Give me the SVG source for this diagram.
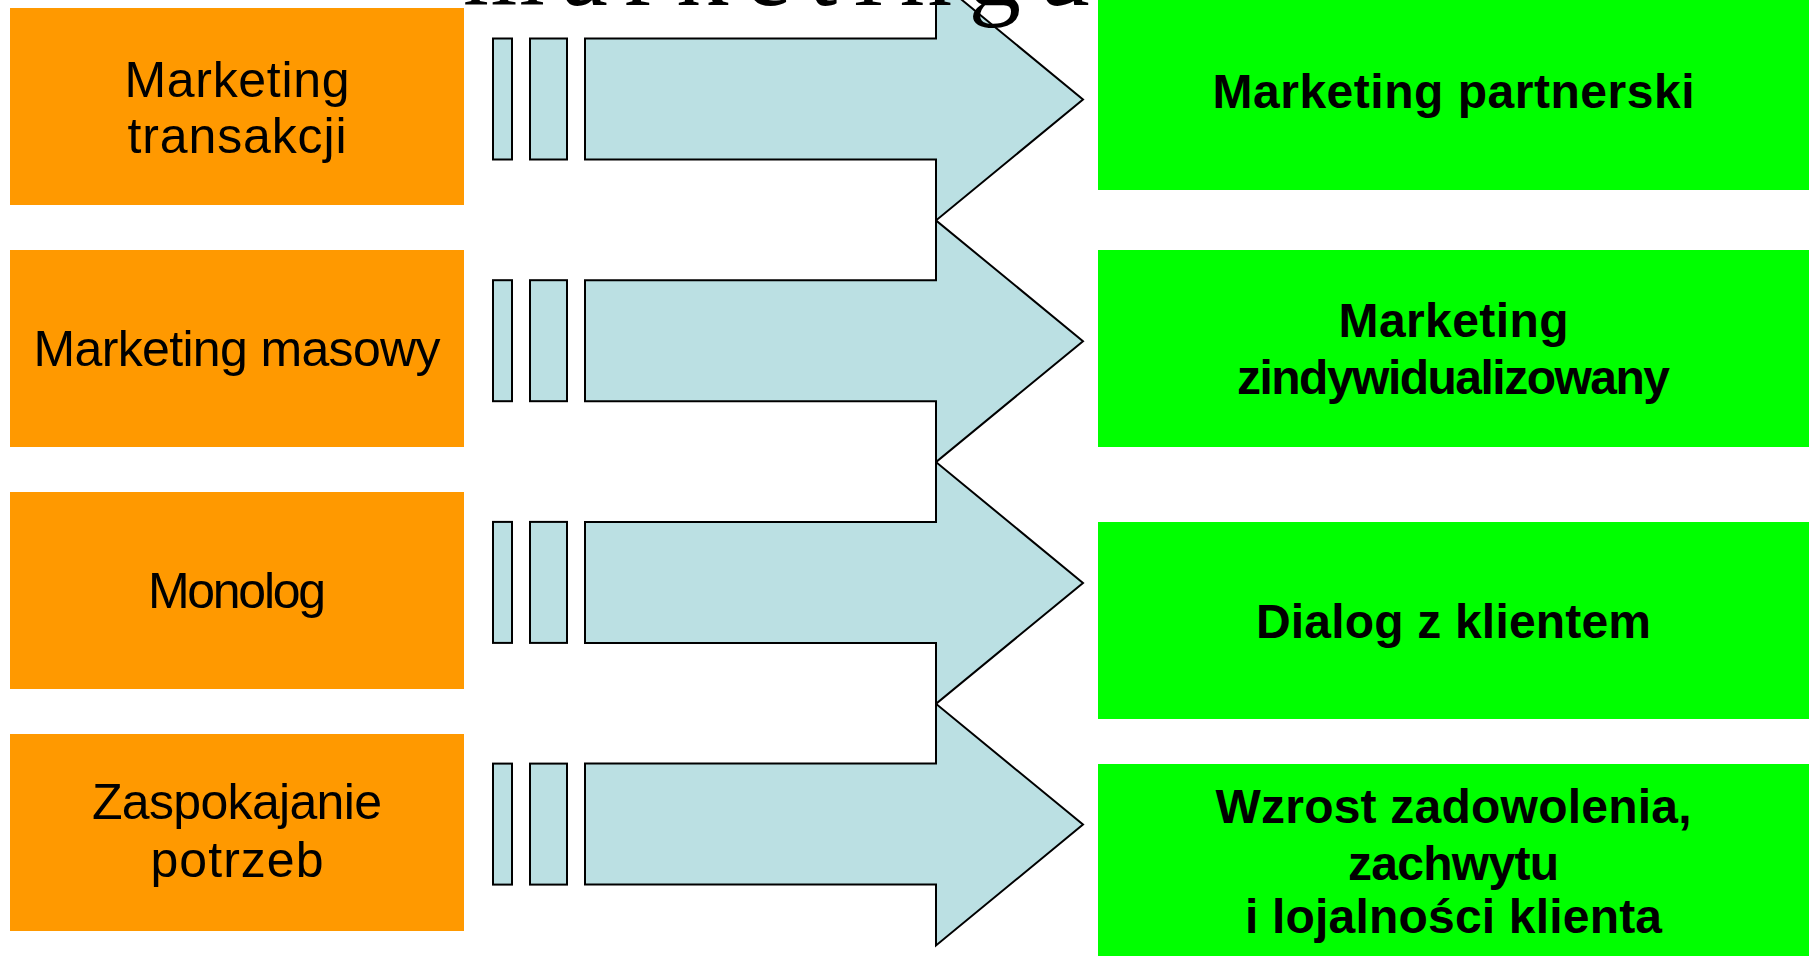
<svg xmlns="http://www.w3.org/2000/svg" width="1818" height="956" viewBox="0 0 1818 956">
<style>
.bg{fill:#FFFFFF}
.old{fill:#FF9900}
.new{fill:#00FF00}
.arr{fill:#BBE0E3;stroke:#000000;stroke-width:2;stroke-linejoin:miter}
.lt{font-family:"Comic Sans MS","Liberation Sans",sans-serif;font-size:50px;fill:#000000;text-anchor:middle}
.rt{font-family:"Comic Sans MS","Liberation Sans",sans-serif;font-size:48px;font-weight:bold;fill:#000000;text-anchor:middle}
.title{font-family:"Liberation Serif","Times New Roman",serif;font-size:105px;fill:#000000}
</style>
<rect class="bg" x="0" y="0" width="1818" height="956"/>

<g id="connectors">
  <g id="arrow1">
    <rect class="arr" x="493" y="38.5" width="19" height="121"/>
    <rect class="arr" x="530" y="38.5" width="37" height="121"/>
    <path class="arr" d="M585,38.5 H936 V-21.4 L1083,99.5 L936,220.4 V159.5 H585 Z"/>
  </g>
  <g id="arrow2">
    <rect class="arr" x="493" y="280.2" width="19" height="121"/>
    <rect class="arr" x="530" y="280.2" width="37" height="121"/>
    <path class="arr" d="M585,280.2 H936 V220.4 L1083,341.2 L936,462.1 V401.2 H585 Z"/>
  </g>
  <g id="arrow3">
    <rect class="arr" x="493" y="521.9" width="19" height="121"/>
    <rect class="arr" x="530" y="521.9" width="37" height="121"/>
    <path class="arr" d="M585,521.9 H936 V462.1 L1083,582.9 L936,703.8 V642.9 H585 Z"/>
  </g>
  <g id="arrow4">
    <rect class="arr" x="493" y="763.6" width="19" height="121"/>
    <rect class="arr" x="530" y="763.6" width="37" height="121"/>
    <path class="arr" d="M585,763.6 H936 V703.8 L1083,824.6 L936,945.5 V884.6 H585 Z"/>
  </g>
</g>

<text class="title" x="463" y="5" textLength="627" lengthAdjust="spacing">marketingu</text>

<g id="old1">
  <rect class="old" x="10" y="8" width="454" height="197"/>
  <text class="lt" x="237" y="97" textLength="225">Marketing</text>
  <text class="lt" x="237" y="153" textLength="219">transakcji</text>
</g>
<g id="old2">
  <rect class="old" x="10" y="250" width="454" height="197"/>
  <text class="lt" x="237" y="366" textLength="407">Marketing masowy</text>
</g>
<g id="old3">
  <rect class="old" x="10" y="492" width="454" height="197"/>
  <text class="lt" x="237" y="608" textLength="178">Monolog</text>
</g>
<g id="old4">
  <rect class="old" x="10" y="734" width="454" height="197"/>
  <text class="lt" x="237" y="819" textLength="290">Zaspokajanie</text>
  <text class="lt" x="237" y="877" textLength="173">potrzeb</text>
</g>

<g id="new1">
  <rect class="new" x="1098" y="0" width="711" height="190"/>
  <text class="rt" x="1453.5" y="108" textLength="482">Marketing partnerski</text>
</g>
<g id="new2">
  <rect class="new" x="1098" y="250" width="711" height="197"/>
  <text class="rt" x="1453.5" y="337" textLength="230">Marketing</text>
  <text class="rt" x="1453.5" y="394" textLength="433">zindywidualizowany</text>
</g>
<g id="new3">
  <rect class="new" x="1098" y="522" width="711" height="197"/>
  <text class="rt" x="1453.5" y="638" textLength="395">Dialog z klientem</text>
</g>
<g id="new4">
  <rect class="new" x="1098" y="764" width="711" height="192"/>
  <text class="rt" x="1453.5" y="823" textLength="476">Wzrost zadowolenia,</text>
  <text class="rt" x="1453.5" y="880" textLength="211">zachwytu</text>
  <text class="rt" x="1453.5" y="933" textLength="417">i lojalności klienta</text>
</g>
</svg>
